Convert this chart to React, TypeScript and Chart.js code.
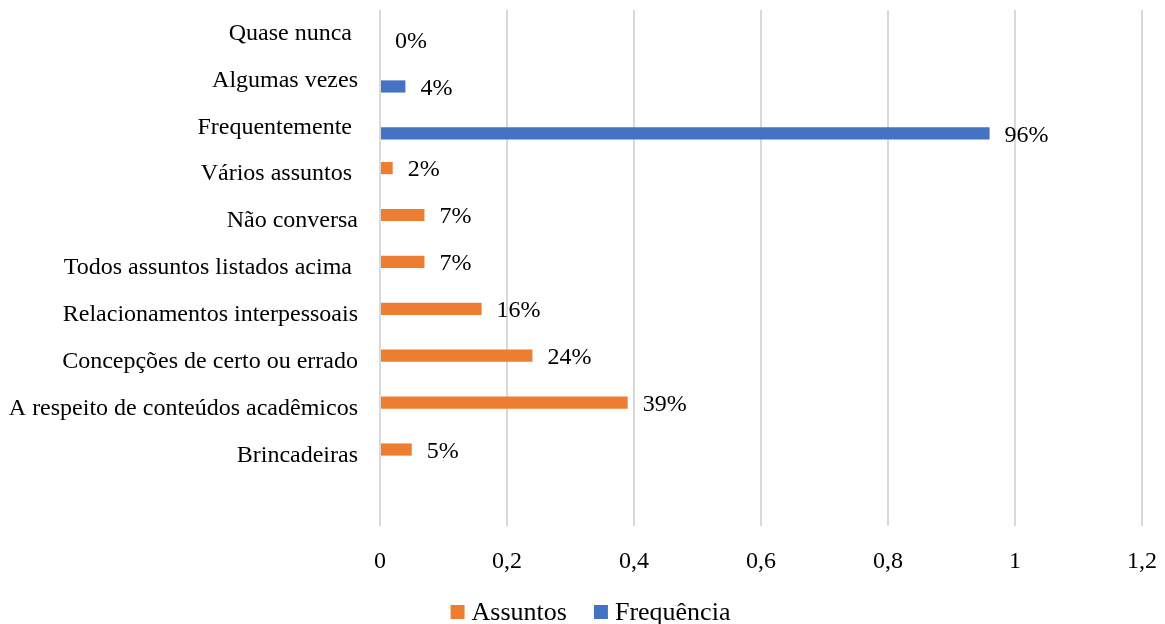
import { useEffect, useRef } from 'react';
import { Chart, registerables } from 'chart.js';

Chart.register(...registerables);

// Categories, top to bottom (the last one is an empty spacer row)
const categories = [
  'Quase nunca ',
  'Algumas vezes',
  'Frequentemente ',
  'Vários assuntos ',
  'Não conversa',
  'Todos assuntos listados acima ',
  'Relacionamentos interpessoais',
  'Concepções de certo ou errado',
  'A respeito de conteúdos acadêmicos',
  'Brincadeiras',
  '',
];

const assuntos: (number | null)[] = [null, null, null, 0.02, 0.07, 0.07, 0.16, 0.24, 0.39, 0.05, null];
const frequencia: (number | null)[] = [0, 0.04, 0.96, null, null, null, null, null, null, null, null];

const xTicks = [0, 0.2, 0.4, 0.6, 0.8, 1, 1.2];

const ORANGE = '#ED7D31';
const BLUE = '#4472C4';
const FONT = '"Liberation Serif", "Times New Roman", serif';

const formatTick = (v: number) => String(Math.round(v * 10) / 10).replace('.', ',');

// Percentage labels placed just past the end of each bar
const valueLabels = {
  id: 'valueLabels',
  afterDatasetsDraw(chart: any) {
    const ctx = chart.ctx;
    ctx.save();
    ctx.font = `24px ${FONT}`;
    ctx.fillStyle = '#000';
    ctx.textAlign = 'left';
    ctx.textBaseline = 'middle';
    chart.data.datasets.forEach((ds: any, i: number) => {
      const meta = chart.getDatasetMeta(i);
      meta.data.forEach((bar: any, j: number) => {
        const v = ds.data[j];
        if (v === null || v === undefined) return;
        ctx.fillText(`${Math.round(v * 100)}%`, bar.x + 15, bar.y + 2);
      });
    });
    ctx.restore();
  },
};

// Bottom legend with square swatches
const bottomLegend = {
  id: 'bottomLegend',
  afterDraw(chart: any) {
    const ctx = chart.ctx;
    ctx.save();
    ctx.font = `26px ${FONT}`;
    ctx.textBaseline = 'middle';
    ctx.textAlign = 'left';
    const box = 14;
    const gap = 7;
    const itemGap = 27;
    const items = chart.data.datasets.map((ds: any) => ({
      text: ds.label,
      color: ds.backgroundColor,
      w: ctx.measureText(ds.label).width,
    }));
    const total = items.reduce((s: number, it: any) => s + box + gap + it.w, 0) + itemGap * (items.length - 1);
    let x = (chart.width - total) / 2 + 8;
    const cy = 612;
    items.forEach((it: any) => {
      ctx.fillStyle = it.color;
      ctx.fillRect(x, cy - box / 2, box, box);
      x += box + gap;
      ctx.fillStyle = '#000';
      ctx.fillText(it.text, x, cy + 1);
      x += it.w + itemGap;
    });
    ctx.restore();
  },
};

export default function App() {
  const canvasRef = useRef<HTMLCanvasElement | null>(null);

  useEffect(() => {
    document.body.style.margin = '0';
    const canvas = canvasRef.current;
    if (!canvas) return;
    const chart = new Chart(canvas, {
      type: 'bar',
      data: {
        labels: categories,
        datasets: [
          { label: 'Assuntos', data: assuntos, backgroundColor: ORANGE },
          { label: 'Frequência', data: frequencia, backgroundColor: BLUE },
        ],
      },
      options: {
        indexAxis: 'y',
        animation: false,
        responsive: true,
        maintainAspectRatio: false,
        categoryPercentage: 0.52,
        barPercentage: 1,
        layout: { padding: { top: 10, right: 23, bottom: 0, left: 0 } },
        plugins: {
          legend: { display: false },
          tooltip: { enabled: false },
        },
        scales: {
          x: {
            type: 'linear',
            min: 0,
            max: 1.2,
            afterBuildTicks(scale: any) {
              scale.ticks = xTicks.map((v) => ({ value: v }));
            },
            afterFit(scale: any) {
              scale.height = 98;
              scale.paddingLeft = 0;
              scale.paddingRight = 0;
            },
            grid: { color: '#d9d9d9', lineWidth: 2, drawTicks: false },
            border: { display: false },
            ticks: {
              padding: 21,
              color: '#000',
              font: { family: FONT, size: 24 },
              callback: (v: any) => formatTick(Number(v)),
            },
          },
          y: {
            afterFit(scale: any) {
              scale.width = 380;
              scale.paddingTop = 0;
              scale.paddingBottom = 0;
            },
            grid: { display: false, drawTicks: false },
            border: { display: false },
            ticks: {
              padding: 22,
              color: '#000',
              autoSkip: false,
              font: { family: FONT, size: 24 },
            },
          },
        },
      },
      plugins: [valueLabels, bottomLegend],
    });
    return () => chart.destroy();
  }, []);

  return (
    <div style={{ position: 'relative', width: 1165, height: 624 }}>
      <canvas ref={canvasRef} />
    </div>
  );
}
